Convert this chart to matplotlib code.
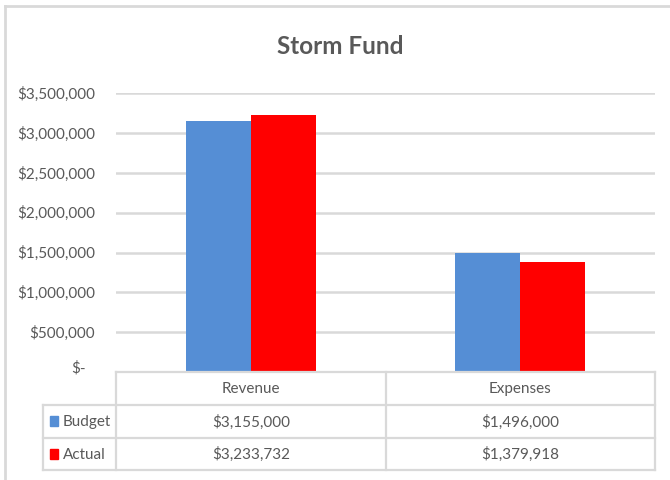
import matplotlib
matplotlib.use("Agg")
import matplotlib.pyplot as plt
import matplotlib.transforms as mtransforms
import numpy as np

# ---- data ----
title = "Storm Fund"
categories = ["Revenue", "Expenses"]
series_names = ["Budget", "Actual"]
budget = [3155000, 1496000]
actual = [3233732, 1379918]
yticks = [0, 500000, 1000000, 1500000, 2000000, 2500000, 3000000, 3500000]

colors = ["#558ED5", "#FF0000"]
text_color = "#595959"
grid_color = "#D9D9D9"

plt.rcParams['font.family'] = ['Lato', 'DejaVu Sans']

W, H = 670, 481
fig = plt.figure(figsize=(W / 100, H / 100), dpi=100)
fig.patch.set_facecolor("white")

# plot area in pixel coordinates
x0, x1 = 116, 655
ytop, ybot = 94.3, 373

ax = fig.add_axes([x0 / W, 1 - ybot / H, (x1 - x0) / W, (ybot - ytop) / H])
ax.set_xlim(-0.5, len(categories) - 0.5)
ax.set_ylim(0, 3500000)
for s in ax.spines.values():
    s.set_visible(False)
ax.set_xticks([])
ax.set_yticks(yticks)
ax.tick_params(axis='y', length=0, labelleft=False)
ax.yaxis.grid(True, color=grid_color, linewidth=1.8)
ax.set_axisbelow(True)

x = np.arange(len(categories))
bw = 65 / 270
ax.bar(x - bw / 2, budget, width=bw, color=colors[0], zorder=3)
ax.bar(x + bw / 2, actual, width=bw, color=colors[1], zorder=3)

fs = 11
# y tick labels
ytrans = ax.get_yaxis_transform()
for v in yticks:
    if v == 0:
        tr = mtransforms.offset_copy(ytrans, fig=fig, x=-30, y=5, units='dots')
        ax.text(0, v, "$-", transform=tr, ha='right', va='center',
                fontsize=fs, color=text_color)
    else:
        tr = mtransforms.offset_copy(ytrans, fig=fig, x=-21, y=0, units='dots')
        ax.text(0, v, f"${v:,.0f}", transform=tr, ha='right', va='center',
                fontsize=fs, color=text_color)

# overlay axes in pixel coordinates for table & border
ov = fig.add_axes([0, 0, 1, 1], facecolor='none')
ov.set_xlim(0, W)
ov.set_ylim(H, 0)
ov.axis('off')

lw = 1.6
# outer chart border (cropped right/bottom)
ov.plot([5, 5], [7, H], color=grid_color, lw=2)
ov.plot([5, W], [7, 7], color=grid_color, lw=2)

# title
ov.text(340, 46, title, ha='center', va='center', fontsize=17.5,
        fontweight='bold', color=text_color)

# table grid
row_y = [373, 406, 438.5, 471]
col_x = [43, 116, 386, 655]
ov.plot([col_x[1], col_x[3]], [row_y[0], row_y[0]], color=grid_color, lw=lw)
for yy in row_y[1:]:
    ov.plot([col_x[0], col_x[3]], [yy, yy], color=grid_color, lw=lw)
ov.plot([col_x[0], col_x[0]], [row_y[1], row_y[3]], color=grid_color, lw=lw)
for xx in col_x[1:]:
    ov.plot([xx, xx], [row_y[0], row_y[3]], color=grid_color, lw=lw)

# header
for i, c in enumerate(categories):
    cx = (col_x[1 + i] + col_x[2 + i]) / 2
    ov.text(cx, (row_y[0] + row_y[1]) / 2, c, ha='center', va='center',
            fontsize=fs, color=text_color)
# rows
for r, (name, vals) in enumerate(zip(series_names, [budget, actual])):
    cy = (row_y[1 + r] + row_y[2 + r]) / 2
    ov.add_patch(plt.Rectangle((50, cy - 5), 7.5, 10, color=colors[r]))
    ov.text(63, cy, name, ha='left', va='center', fontsize=fs, color=text_color)
    for i, v in enumerate(vals):
        cx = (col_x[1 + i] + col_x[2 + i]) / 2
        ov.text(cx, cy, f"${v:,.0f}", ha='center', va='center',
                fontsize=fs, color=text_color)

fig.savefig("out.png", dpi=100)
